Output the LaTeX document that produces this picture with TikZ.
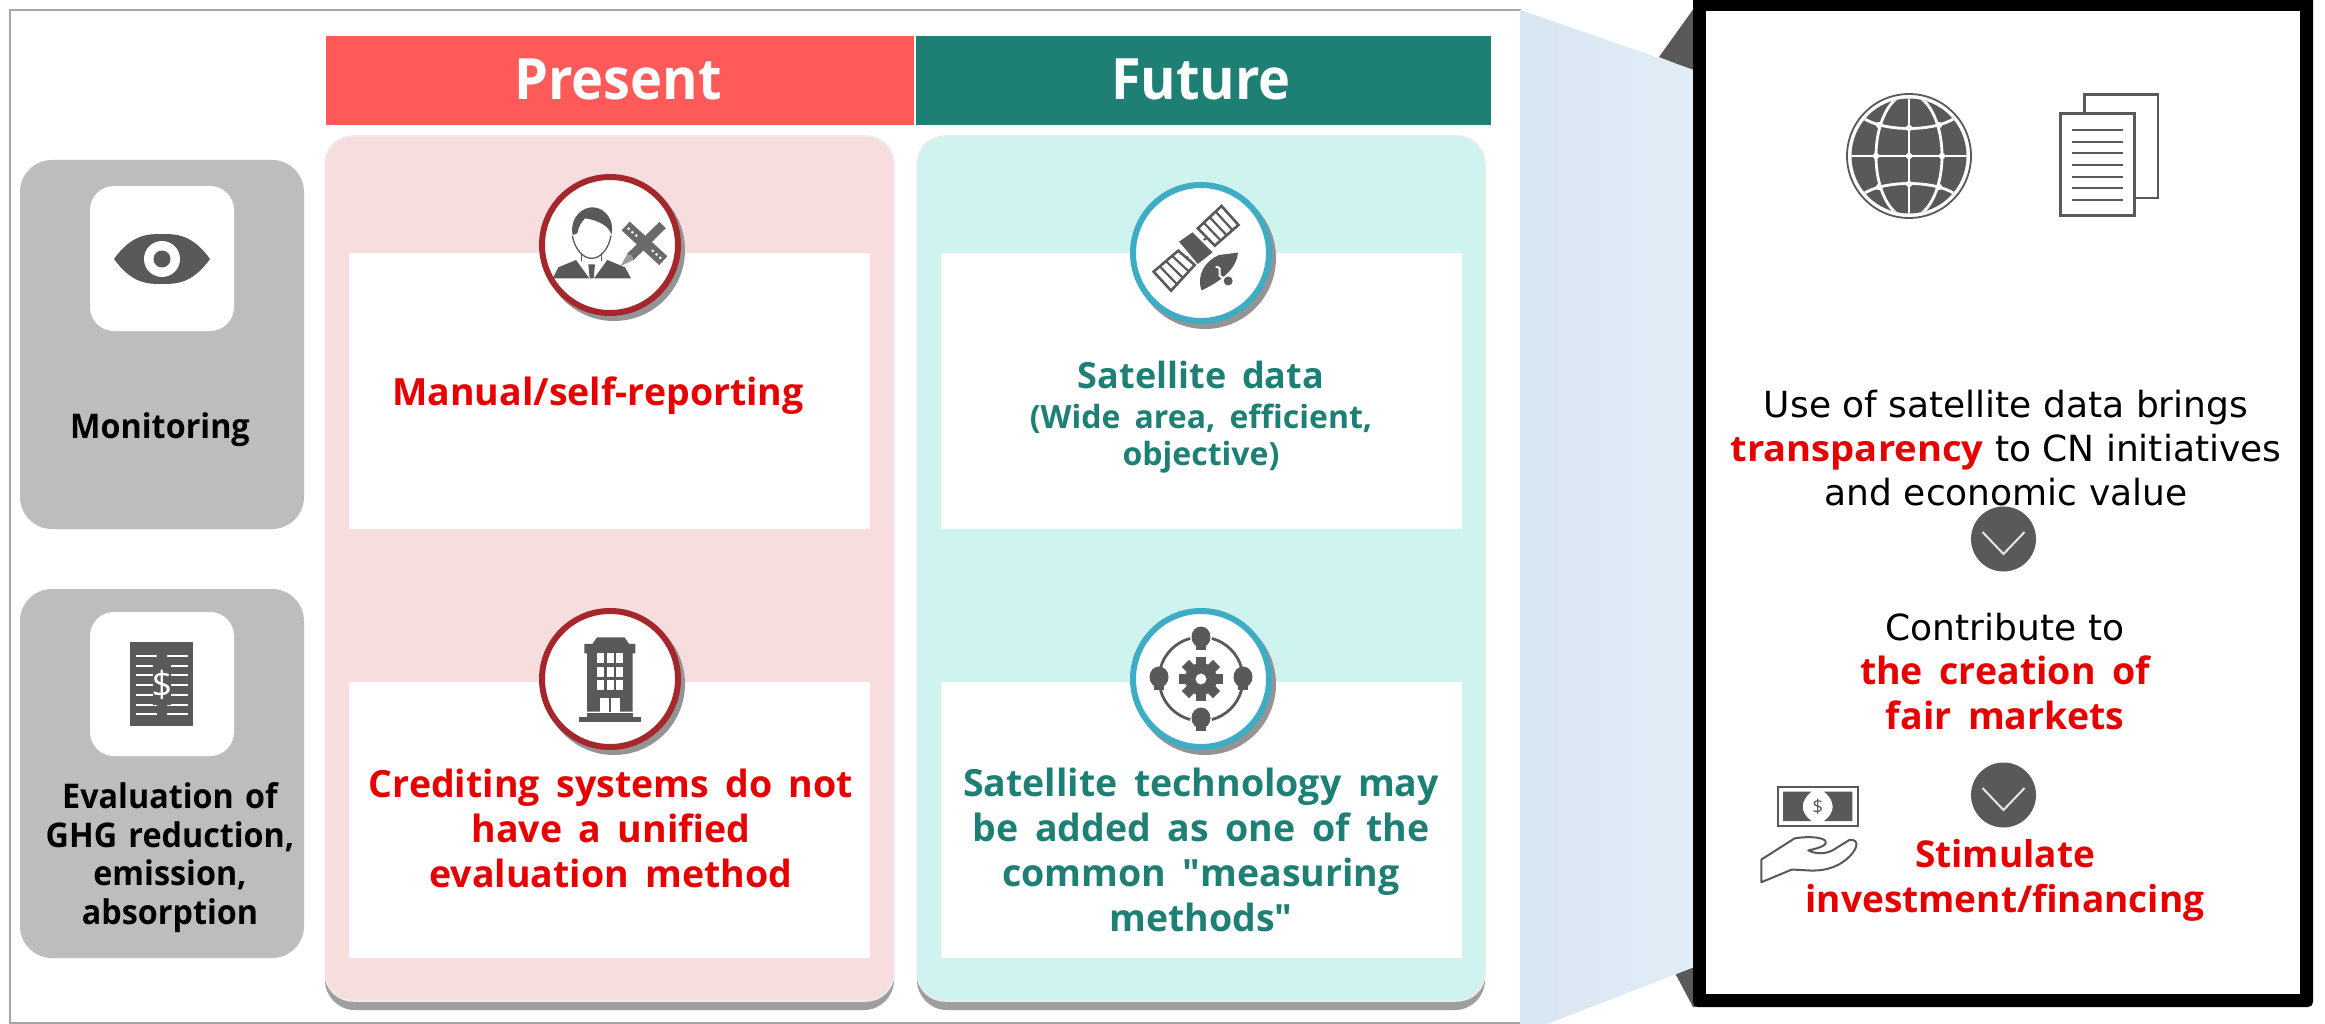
\documentclass[tikz,border=0pt]{standalone}
\usepackage{fontspec}
\usetikzlibrary{calc}
\setmainfont[WordSpace=1.7]{Open Sans}
\newfontfamily\headf[FakeStretch=0.95,WordSpace=1.35]{Open Sans}
\newfontfamily\regf{DejaVu Sans}
\newfontfamily\widef[FakeStretch=1.06]{Open Sans}
\newfontfamily\quotef{Open Sans}
\definecolor{frameg}{HTML}{A6A6A6}
\definecolor{redhead}{HTML}{FF5A5A}
\definecolor{teal}{HTML}{1E7F75}
\definecolor{pinkp}{HTML}{F8DDDF}
\definecolor{tealp}{HTML}{CFF3EF}
\definecolor{boxg}{HTML}{BDBDBD}
\definecolor{icong}{HTML}{595959}
\definecolor{redt}{HTML}{E60000}
\definecolor{ringr}{HTML}{A5272B}
\definecolor{ringb}{HTML}{3DADC6}
\definecolor{blueL}{HTML}{D8E6F2}
\definecolor{blueR}{HTML}{E2EDF7}
\tikzset{
  x=1pt,y=-1pt,
  every node/.style={inner sep=0pt,outer sep=0pt},
  head/.style={font=\headf\fontsize{57}{60}\selectfont\bfseries,text=white,anchor=base},
  redtxt/.style={font=\fontsize{37.5}{45}\selectfont\bfseries,text=redt,align=center,anchor=base},
  teatxt/.style={font=\fontsize{37.5}{45}\selectfont\bfseries,text=teal,align=center,anchor=base},
  blk/.style={font=\headf\fontsize{34}{38.4}\selectfont\bfseries,text=black,align=center,anchor=base},
  reg/.style={font=\regf\fontsize{36}{44}\selectfont,text=black,align=center,anchor=base},
  rzoomb/.style={x=0.526pt,y=-0.3344pt,shift={(1500pt,-500pt)}},
  lzoomb/.style={x=0.574pt,y=-0.3333pt,shift={(0pt,-540pt)}},
  fzoom/.style={x=0.4464pt,y=-0.3333pt,shift={(880pt,-100pt)}},
  pzoom/.style={x=0.3333pt,y=-0.3333pt,shift={(530pt,-170pt)}},
}
\newcommand{\panel}[3]{% x1,x2,color
  \fill[black!38,rounded corners=30pt] (#1,600) rectangle (#2,1010);
  \fill[#3,draw=black!8,line width=1.5pt,rounded corners=28pt] (#1,136) rectangle (#2,1001);
}
\newcommand{\ring}[4]{% name,cx,cy,color
  \fill[black!42] (#2+4,#3+5) circle (71);
  \node[circle,draw=#4,line width=6pt,fill=white,minimum size=136pt] (#1) at (#2,#3) {};
}
\newcommand{\chev}[3]{% name,cx,cy
  \node[circle,fill=icong,minimum size=65pt] (#1) at (#2,#3) {};
  \draw[white!85!icong,line width=2pt] (#2-21,#3-7) -- (#2,#3+15) -- (#2+21,#3-7);
}
\begin{document}
\begin{tikzpicture}
\useasboundingbox (0,0) rectangle (2325,1024);
\fill[white] (0,0) rectangle (2325,1024);
% outer frame
\draw[frameg,line width=2pt] (1521,10) -- (10,10) -- (10,1023) -- (1521,1023);
% blue wedge and dark flaps
\fill[icong] (1659,57) -- (1697,4) -- (1697,72) -- cycle;
\fill[icong] (1675,973) -- (1697,966) -- (1697,1007) -- (1693,1007) -- cycle;
\shade[left color=blueL,right color=blueR]
  (1520,10) -- (1697,71) -- (1697,966) -- (1547,1024) -- (1520,1024) -- cycle;
% headers
\fill[redhead] (326,36) rectangle (914,125);
\fill[teal] (916,36) rectangle (1491,125);
\node[head] (present) at (618,100) {Present};
\node[head] (future) at (1201,100) {Future};
% panels
\panel{325}{894}{pinkp}
\panel{917}{1485}{tealp}
\fill[white] (349,253) rectangle (870,529);
\fill[white] (349,682) rectangle (870,958);
\fill[white] (941,253) rectangle (1462,529);
\fill[white] (941,682) rectangle (1462,958);
% grey boxes
\fill[boxg,rounded corners=32pt] (20,160) rectangle (304,529);
\fill[boxg,rounded corners=32pt] (20,589) rectangle (304,958);
\fill[white,rounded corners=24pt] (90,186) rectangle (234,331);
\fill[white,rounded corners=24pt] (90,612) rectangle (234,756);
% eye
\fill[icong] (114,259) .. controls (132,234) and (148,234) .. (162,234) .. controls (176,234) and (192,234) .. (210,259) .. controls (192,284) and (176,284) .. (162,284) .. controls (148,284) and (132,284) .. (114,259) -- cycle;
\fill[white] (162,259) circle (18);
\fill[icong] (162,259) circle (8.5);
% dollar doc
\fill[icong] (130,642) rectangle (193,726);
\foreach \yy in {656,666,675,685,695,705,714}{
  \draw[white,line width=1.8pt] (136,\yy) -- (157,\yy);
  \draw[white,line width=1.8pt] (167,\yy) -- (188,\yy);
}
\fill[icong] (153,665) rectangle (171,705);
\node[font=\fontsize{36}{36}\selectfont,text=white] (dollar) at (162,685) {\$};
% left labels
\node[blk] (mon) at (160,438) {Monitoring};
\node[blk] (eva) at (170,924) {Evaluation of\\GHG reduction,\\emission,\\absorption};
% present texts
\node[redtxt] (man) at (598,405) {Manual/self-reporting};
\node[redtxt] (cre) at (611,887) {Crediting systems do not\\have a unified\\evaluation method};
% future texts
\node[teatxt,font=\fontsize{36}{45}\selectfont\bfseries] (sat) at (1201,388) {Satellite data};
\node[font=\fontsize{32}{37}\selectfont\bfseries,text=teal,align=center,anchor=base] (wid) at (1201,465) {(Wide area, efficient,\\objective)};
\node[teatxt] (tec) at (1201,931) {Satellite technology may\\be added as one of the\\common {\quotef"}measuring\\methods{\quotef"}};
% circles
\ring{c1}{610}{245}{ringr}
\ring{c2}{610}{679}{ringr}
\ring{c3}{1201}{253}{ringb}
\ring{c4}{1201}{679}{ringb}
% person icon
\begin{scope}[pzoom]
  \fill[icong] (68,325) -- (85,292) -- (138,270) -- (178,325) -- cycle;
  \fill[icong] (303,325) -- (285,292) -- (232,270) -- (192,325) -- cycle;
  \fill[white] (155,272) -- (185,290) -- (215,272) -- (190,325) -- (180,325) -- cycle;
  \fill[icong] (175,283) -- (195,283) -- (191,325) -- (179,325) -- cycle;
  \fill[icong] (128,195) .. controls (118,140) and (160,110) .. (190,112) .. controls (225,114) and (255,150) .. (244,195) .. controls (240,170) and (205,150) .. (165,145) .. controls (155,155) and (145,170) .. (142,190) -- cycle;
  \draw[icong,line width=1.3pt] (127,197) .. controls (135,240) and (160,265) .. (185,265) .. controls (210,265) and (235,240) .. (243,197);
  \draw[icong,line width=1.3pt] (155,248) -- (155,272) (215,248) -- (215,272);
  % ruler and pencil
  \draw[icong!90,line width=12pt] (287,168) -- (400,272);
  \foreach \t in {0.08,0.18,0.28,0.72,0.82,0.92}{ \fill[white] ($(287,168)!\t!(400,272)$) circle (1.5pt); }
  \draw[icong!90,line width=9pt] (398,165) -- (300,262);
  \fill[icong!60] (306,256) -- (292,252) -- (272,288) -- (310,270) -- cycle;
\end{scope}
% building icon
\begin{scope}[lzoomb]
  \fill[icong] (1040,292) -- (1088,292) -- (1096,312) -- (1107,312) -- (1107,340) -- (1102,340) -- (1102,515) -- (1023,515) -- (1023,340) -- (1018,340) -- (1018,312) -- (1032,312) -- cycle;
  \foreach \xx in {1040,1057,1074} \foreach \yy in {340,380,420} \fill[white] (\xx,\yy) rectangle +(12,30);
  \fill[white] (1045,475) rectangle (1080,515);
  \fill[icong] (1061,475) rectangle (1064,515);
  \fill[icong] (1022,520) rectangle (1102,530);
  \fill[icong] (1008,530) rectangle (1117,545);
\end{scope}
% satellite icon
\begin{scope}[fzoom]
  \fill[icong] (670,425) -- (700,397) -- (745,457) -- (712,492) -- cycle;
  \draw[icong,line width=2pt] (690,470) -- (672,490) (725,420) -- (745,402);
  \coordinate (pa) at (613,515); \coordinate (pb) at (668,452); \coordinate (pc) at (705,495); \coordinate (pd) at (652,572);
  \filldraw[fill=white,draw=icong,line width=2.6pt] (pa) -- (pb) -- (pc) -- (pd) -- cycle;
  \foreach \t in {0.25,0.5,0.75}{ \draw[icong,line width=2.2pt] ($(pa)!\t!(pb)$) -- ($(pd)!\t!(pc)$); }
  \coordinate (qa) at (712,385); \coordinate (qb) at (765,318); \coordinate (qc) at (803,375); \coordinate (qd) at (750,437);
  \filldraw[fill=white,draw=icong,line width=2.6pt] (qa) -- (qb) -- (qc) -- (qd) -- cycle;
  \foreach \t in {0.25,0.5,0.75}{ \draw[icong,line width=2.2pt] ($(qa)!\t!(qb)$) -- ($(qd)!\t!(qc)$); }
  \fill[icong] (720,570) .. controls (708,525) and (730,480) .. (760,465) -- (802,458) .. controls (800,500) and (770,540) .. (722,570) -- cycle;
  \draw[white,line width=2pt] (752,500) .. controls (775,505) and (745,525) .. (772,535);
  \fill[icong] (780,543) circle (4.5pt);
\end{scope}
% people and gear icon
\foreach \a in {0,45,...,315}{ \fill[icong,rotate around={\a:(1201,679)}] (1196,657) rectangle (1206,668); }
\fill[icong] (1201,679) circle (16);
\fill[white] (1201,679) circle (5.5);
\foreach \a/\b in {15/75,105/165,195/255,285/345}{
  \draw[icong,line width=2.8pt] ($(1201,679)+({42*cos(\a)},{42*sin(\a)})$) arc[start angle=-\a,end angle=-\b,radius=42pt];
}
\foreach \xx/\yy in {1201/639,1201/720,1159/679,1243/679}{
  \fill[icong] (\xx,\yy-2) ellipse (9.5 and 10.5);
  \fill[icong] (\xx-5,\yy+4) rectangle (\xx+5,\yy+11);
}
% right panel
\fill[black,rounded corners=5pt] (1693,-10) rectangle (2313,1007);
\fill[white] (1706,11) rectangle (2300,994);
% globe
\begin{scope}[shift={(1909pt,-156pt)}]
  \draw[icong,line width=1.8pt] (0,0) circle (62);
  \fill[icong] (0,0) circle (57.5);
  \begin{scope}
    \clip (0,0) circle (57.5);
    \draw[white,line width=2.8pt] (-62,0) -- (62,0) (0,-62) -- (0,62);
    \draw[white,line width=2.8pt] (0,0) ellipse (33 and 62);
    \draw[white,line width=2.8pt] (-46,-38) .. controls (-25,-24) and (25,-24) .. (46,-38);
    \draw[white,line width=2.8pt] (-46,38) .. controls (-25,24) and (25,24) .. (46,38);
    \foreach \px/\py in {0/0,-33/0,33/0,0/-28,0/28,-30/-31,30/-31,-30/31,30/31}{ \fill[white] (\px,\py) circle (3.2); }
  \end{scope}
\end{scope}
% sheets
\draw[icong,line width=2.6pt] (2084.5,113) -- (2084.5,94.5) -- (2158,94.5) -- (2158,198) -- (2136,198);
\filldraw[fill=white,draw=icong,line width=3pt] (2060.5,113.5) rectangle (2134.5,215.5);
\foreach \yy in {130,142,153,165,177,188,200}{ \draw[icong,line width=2.6pt] (2072,\yy) -- (2123,\yy); }
% right texts
\node[reg] (use) at (2006,505) {Use of satellite data brings\\{\widef\bfseries\color{redt}transparency} to CN initiatives\\and economic value};
\chev{ch1}{2003.5}{539}
\node[reg] (con) at (2005,640) {Contribute to};
\node[redtxt] (fai) at (2005,729) {the creation of\\fair markets};
\chev{ch2}{2003.5}{795}
\node[redtxt,font=\fontsize{37}{45}\selectfont\bfseries] (sti) at (2005,912) {Stimulate\\investment/financing};
% money and hand
\begin{scope}[rzoomb]
  \draw[icong,line width=2.4pt] (529,858) rectangle (681,975);
  \fill[icong] (538,872) -- (592,872) .. controls (570,900) and (570,935) .. (592,960) -- (538,960) -- cycle;
  \fill[icong] (670,872) -- (616,872) .. controls (638,900) and (638,935) .. (616,960) -- (670,960) -- cycle;
  \node[font=\fontsize{19}{19}\selectfont,text=icong] (bill) at (604,917) {\$};
  \draw[icong,line width=2pt,line join=round] (497,1143) -- (497,1075) -- (560,1012) .. controls (585,1005) and (610,1008) .. (618,1018) .. controls (625,1030) and (610,1040) .. (586,1048) .. controls (605,1062) and (625,1058) .. (640,1040) -- (665,1016) .. controls (685,1015) and (678,1045) .. (665,1065) .. controls (650,1090) and (625,1110) .. (590,1108) -- (555,1105) -- cycle;
\end{scope}
\end{tikzpicture}
\end{document}
